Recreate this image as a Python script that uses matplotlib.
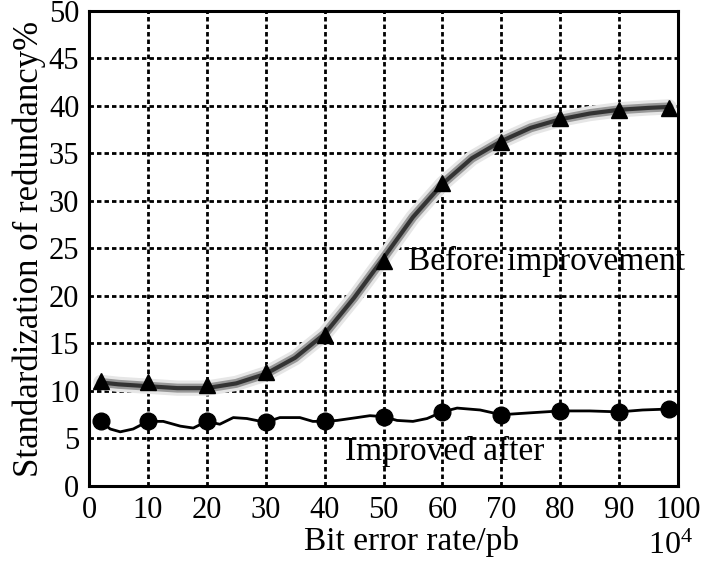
import matplotlib
matplotlib.use('Agg')
import matplotlib.pyplot as plt

plt.rcParams['font.family'] = ['Liberation Serif', 'DejaVu Serif']
plt.rcParams['mathtext.fontset'] = 'custom'
plt.rcParams['mathtext.rm'] = 'Liberation Serif'

# Marker values
x_points = [2, 10, 20, 30, 40, 50, 60, 70, 80, 90, 98.5]
before_y = [11.0, 10.9, 10.6, 12.0, 15.9, 23.7, 31.9, 36.2, 38.7, 39.6, 39.8]
after_y = [6.8, 6.8, 6.8, 6.7, 6.8, 7.3, 7.8, 7.5, 7.9, 7.8, 8.1]

# Traced line paths
before_line_x = [2, 5, 10, 15, 20, 25, 30, 35, 40, 45, 50, 55, 60, 65, 70, 75, 80, 85, 90, 95, 98.5]
before_line_y = [10.9, 10.7, 10.5, 10.3, 10.3, 10.8, 11.8, 13.5, 16.0, 19.8, 24.0, 28.3, 31.8, 34.5, 36.3, 37.7, 38.6, 39.2, 39.6, 39.8, 39.9]
after_line_x = [2, 3.6, 5.3, 7.5, 10, 12.6, 15.5, 17.7, 20, 22.2, 24.5, 26.8, 30, 32.4, 35.8, 38, 40,
                42.1, 45.5, 47.7, 50, 52.3, 55, 57.4, 60, 62.5, 66.4, 70, 74.9, 80, 85, 90, 94, 98.5]
after_line_y = [6.8, 6.0, 5.7, 6.0, 6.8, 6.8, 6.3, 6.1, 6.8, 6.5, 7.2, 7.1, 6.7, 7.2, 7.2, 6.8, 6.8,
                6.9, 7.2, 7.4, 7.3, 6.9, 6.8, 7.1, 7.8, 8.2, 8.0, 7.5, 7.7, 7.9, 7.9, 7.8, 8.0, 8.1]

x_ticks = [0, 10, 20, 30, 40, 50, 60, 70, 80, 90, 100]
y_ticks = [0, 5, 10, 15, 20, 25, 30, 35, 40, 45, 50]

fig = plt.figure(figsize=(7.02, 5.63), dpi=100)
ax = fig.add_axes([0.1268, 0.1368, 0.839, 0.8437])

ax.set_xlim(0, 100)
ax.set_ylim(0, 50)
ax.set_xticks(x_ticks)
ax.set_yticks(y_ticks)
ax.tick_params(length=0, labelsize=22, pad=7)
ax.grid(True, color='black', linewidth=2.0, linestyle=(0, (1.6, 1.1)))
ax.set_axisbelow(True)
for sp in ax.spines.values():
    sp.set_linewidth(2.2)

# blurred gray curve for "before"
ax.plot(before_line_x, before_line_y, color='0.9', linewidth=11, solid_capstyle='round', zorder=2)
ax.plot(before_line_x, before_line_y, color='0.6', linewidth=6.5, solid_capstyle='round', zorder=2)
ax.plot(before_line_x, before_line_y, color='0.2', linewidth=3, solid_capstyle='round', zorder=2)
ax.plot(x_points, before_y, linestyle='none', marker='^', markersize=11, color='black', zorder=4, clip_on=False)

ax.plot(after_line_x, after_line_y, color='black', linewidth=2, zorder=3, solid_joinstyle='round')
ax.plot(x_points, after_y, linestyle='none', marker='o', markersize=12, color='black', zorder=4, clip_on=False)

ax.text(54.2, 23.6, 'Before improvement', fontsize=24, va='center', ha='left', clip_on=False)
ax.text(43.5, 3.6, 'Improved after', fontsize=24, va='center', ha='left')

ax.set_xlabel('Bit error rate/pb', fontsize=24)
ax.xaxis.set_label_coords(0.547, -0.085)
ax.set_ylabel('Standardization of redundancy%', fontsize=25, labelpad=2)
fig.text(0.955, 0.03, r'$\mathrm{10^4}$', fontsize=23, ha='center', va='center')

fig.savefig('out.png', dpi=100)
